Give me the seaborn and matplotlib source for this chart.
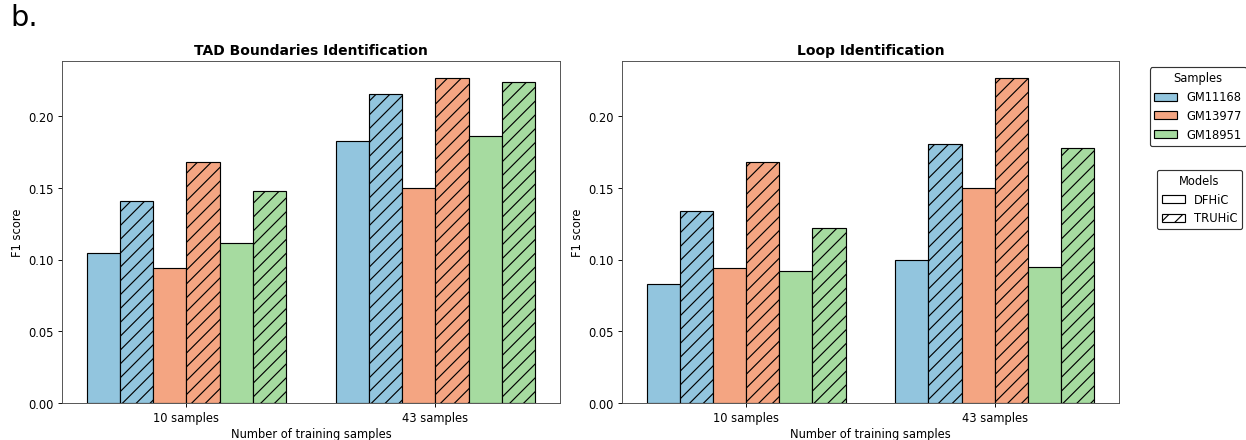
import matplotlib
matplotlib.use("Agg")
import matplotlib.pyplot as plt
import seaborn as sns
import pandas as pd
from matplotlib.patches import Patch

# ---- data ----
tasks = ["TAD Boundaries Identification", "Loop Identification"]
train_sizes = ["10 samples", "43 samples"]
samples = ["GM11168", "GM13977", "GM18951"]
models = ["DFHiC", "TRUHiC"]

# values indexed [sample] -> [10 samples, 43 samples]
tad_dfhic = {"GM11168": [0.105, 0.183], "GM13977": [0.094, 0.150], "GM18951": [0.112, 0.186]}
tad_truhic = {"GM11168": [0.141, 0.216], "GM13977": [0.168, 0.227], "GM18951": [0.148, 0.224]}
loop_dfhic = {"GM11168": [0.083, 0.100], "GM13977": [0.094, 0.150], "GM18951": [0.092, 0.095]}
loop_truhic = {"GM11168": [0.134, 0.181], "GM13977": [0.168, 0.227], "GM18951": [0.122, 0.178]}

sample_colors = ["#92c5de", "#f4a582", "#a6dba0"]

task_data = {
    tasks[0]: {"DFHiC": tad_dfhic, "TRUHiC": tad_truhic},
    tasks[1]: {"DFHiC": loop_dfhic, "TRUHiC": loop_truhic},
}

rows = []
for task in tasks:
    for s in samples:
        for m in models:
            for i, t in enumerate(train_sizes):
                rows.append({"Task": task, "Training": t, "Sample": s, "Model": m,
                             "Group": f"{s} {m}", "F1": task_data[task][m][s][i]})
df = pd.DataFrame(rows)

hue_order = [f"{s} {m}" for s in samples for m in models]
palette = {f"{s} {m}": c for s, c in zip(samples, sample_colors) for m in models}

# ---- figure ----
fig = plt.figure(figsize=(15, 5.3), dpi=83.13)
plt.rcParams["hatch.linewidth"] = 1.0
ax1 = fig.add_axes([62 / 1247, 1 - 403 / 440, 498 / 1247, 341 / 440])
ax2 = fig.add_axes([622 / 1247, 1 - 403 / 440, 497 / 1247, 341 / 440])

for ax, task in zip([ax1, ax2], tasks):
    sub = df[df["Task"] == task]
    sns.barplot(data=sub, x="Training", y="F1", hue="Group", order=train_sizes,
                hue_order=hue_order, palette=palette, edgecolor="black",
                linewidth=1.0, ax=ax, errorbar=None, saturation=1)
    for cont, grp in zip(ax.containers, hue_order):
        if grp.endswith("TRUHiC"):
            for bar in cont:
                bar.set_hatch("//")
    ax.set_title(task, fontsize=12, fontweight="bold")
    ax.set_xlabel("Number of training samples", labelpad=2.5)
    ax.set_ylabel("F1 score")
    ax.set_yticks([0.0, 0.05, 0.10, 0.15, 0.20])
    ax.set_yticklabels(["0.00", "0.05", "0.10", "0.15", "0.20"])
    ax.legend_.remove()
    for sp in ax.spines.values():
        sp.set_color("0.3")

sample_handles = [Patch(facecolor=c, edgecolor="black", label=s) for s, c in zip(samples, sample_colors)]
model_handles = [Patch(facecolor="white", edgecolor="black", label="DFHiC"),
                 Patch(facecolor="white", edgecolor="black", hatch="//", label="TRUHiC")]
leg1 = ax2.legend(handles=sample_handles, title="Samples", bbox_to_anchor=(1.05, 1),
                  loc="upper left", framealpha=1, edgecolor="0.2")
ax2.add_artist(leg1)
ax2.legend(handles=model_handles, title="Models", bbox_to_anchor=(1.065, 0.7),
           loc="upper left", framealpha=1, edgecolor="0.2")

fig.text(0.008, 0.99, "b.", fontsize=25, va="top", ha="left")

fig.savefig("out.png", dpi=83.13)
